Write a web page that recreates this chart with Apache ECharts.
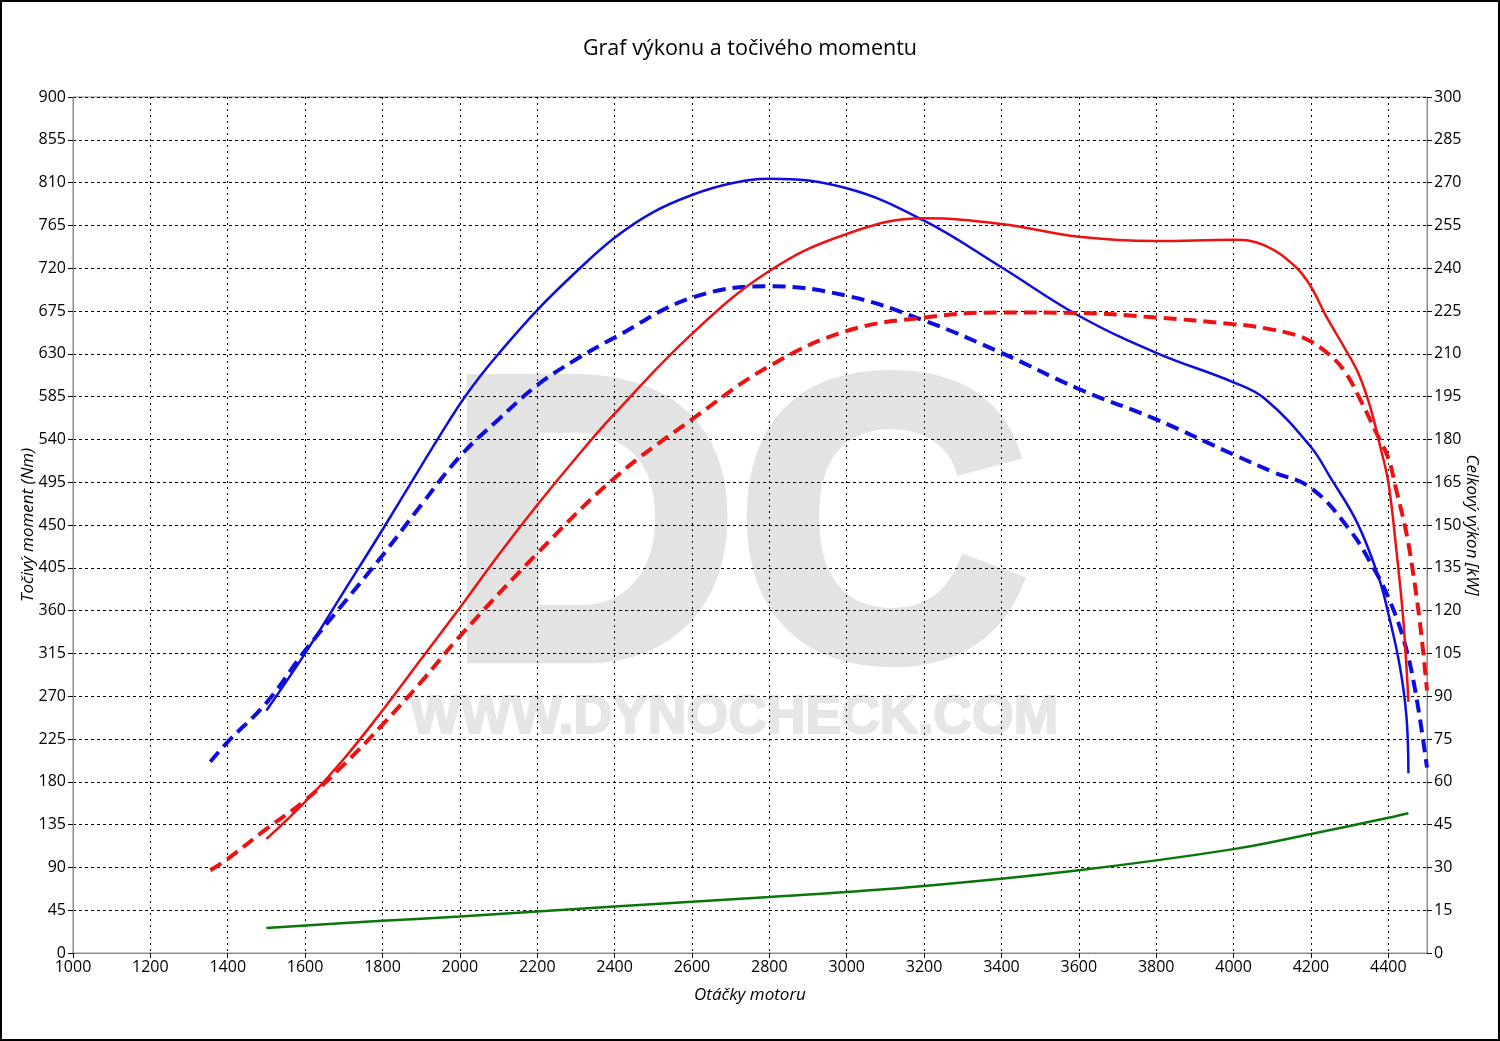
<!DOCTYPE html>
<html>
<head>
<meta charset="utf-8">
<script src="https://cdn.jsdelivr.net/npm/echarts@6/dist/echarts.min.js"></script>
<style>
html,body{margin:0;padding:0;background:#fff;}
#chart{width:1500px;height:1041px;}
</style>
</head>
<body>
<div id="chart"></div>
<script>
// ---- data ----
const titleText = 'Graf výkonu a točivého momentu';
const xName = 'Otáčky motoru';
const leftName = 'Točivý moment (Nm)';
const rightName = 'Celkový výkon [kW]';

// Torque after tuning (blue solid), Nm
const torqueTunedRpm = [1500,1600,1700,1800,1900,1950,2000,2050,2100,2200,2300,2400,2500,2600,2700,2800,3000,3200,3400,3600,3800,4000,4080,4200,4250,4320,4375,4400,4430,4447,4452];
const torqueTunedNm  = [255,315,380,445,512,545,577,605,630,676,716,752,779,797,809,814,804,770,721,670,631,600,583,532,500,452,395,357,301,248,189];

// Torque stock (blue dashed), Nm
const torqueStockRpm = [1355,1400,1500,1600,1700,1800,1900,2000,2100,2200,2300,2400,2600,2800,3000,3200,3400,3600,3800,4000,4100,4200,4300,4360,4400,4440,4470,4500];
const torqueStockNm  = [201,222,263,318,368,418,471,522,561,597,624,647,689,701,691,665,631,593,561,524,506,489,445,406,374,329,275,195];

// Power after tuning (red solid), kW
const powerTunedRpm = [1500,1600,1700,1800,1900,2000,2100,2200,2300,2400,2600,2800,3000,3200,3400,3600,3800,4000,4080,4160,4200,4240,4285,4323,4353,4379,4400,4421,4438,4447,4452];
const powerTunedKw  = [40,53,68,85,103,121,139.5,157,173.5,189,217,239,252,257.5,255.5,251,249.5,250,248,240.5,233.5,223,212.5,203,191.5,177.5,165,141,118,100,88];

// Power stock (red dashed), kW
const powerStockRpm = [1355,1400,1500,1600,1700,1800,1900,2000,2200,2400,2600,2800,3000,3200,3400,3600,3800,4000,4080,4160,4200,4243,4285,4328,4370,4400,4421,4447,4468,4485,4500];
const powerStockKw  = [29,33,43.5,53.5,66,80,95,111,140,166.5,187,205.7,218,222.7,224.5,224.3,222.7,220.4,219,216.6,214.3,210.2,204.3,193.8,182,173.4,162,147,129.6,112,92];

// Losses (green), kW
const lossRpm = [1500,1800,2000,2400,2800,3200,3600,4000,4200,4400,4452];
const lossKw  = [8.8,11.3,12.8,16.3,19.6,23.5,29,36.4,41.7,47.4,49];

function zip(a,b){ return a.map((v,i)=>[v,b[i]]); }

const FONT = 'Open Sans';
const chart = echarts.init(document.getElementById('chart'), null, {renderer:'canvas'});
const plain = v => String(v);

const dash = [13,7];
chart.setOption({
  animation:false,
  backgroundColor:'#fff',
  title:{
    text:titleText, left:'center', top:33,
    textStyle:{fontFamily:FONT, fontSize:21.5, fontWeight:'normal', color:'#000'}
  },
  grid:{left:73, right:73, top:97, bottom:88, show:true, borderColor:'#8c8c8c', borderWidth:1},
  xAxis:{
    type:'value', min:1000, max:4500, interval:200,
    name:xName, nameLocation:'middle', nameGap:34,
    nameTextStyle:{fontFamily:FONT, fontSize:17, fontStyle:'italic', color:'#000'},
    axisLine:{show:true, lineStyle:{color:'#8c8c8c', width:1}},
    axisTick:{show:true, length:5, lineStyle:{color:'#000'}},
    axisLabel:{fontFamily:FONT, fontSize:16, color:'#000', margin:6, showMaxLabel:false, formatter:plain},
    splitLine:{show:true, lineStyle:{color:'#000', width:1, type:[2,4]}}
  },
  yAxis:[{
    type:'value', min:0, max:900, interval:45, position:'left',
    name:leftName, nameLocation:'middle', nameGap:36, nameRotate:90, nameMoveOverlap:false,
    nameTextStyle:{fontFamily:FONT, fontSize:17, fontStyle:'italic', color:'#000'},
    axisLine:{show:true, lineStyle:{color:'#8c8c8c', width:1}},
    axisTick:{show:true, length:5, lineStyle:{color:'#000'}},
    axisLabel:{fontFamily:FONT, fontSize:16, color:'#000', margin:7, formatter:plain},
    splitLine:{show:true, lineStyle:{color:'#000', width:1, type:[3,3]}}
  },{
    type:'value', min:0, max:300, interval:15, position:'right',
    name:rightName, nameLocation:'middle', nameGap:36, nameRotate:-90, nameMoveOverlap:false,
    nameTextStyle:{fontFamily:FONT, fontSize:17, fontStyle:'italic', color:'#000'},
    axisLine:{show:true, lineStyle:{color:'#8c8c8c', width:1}},
    axisTick:{show:true, length:5, lineStyle:{color:'#000'}},
    axisLabel:{fontFamily:FONT, fontSize:16, color:'#000', margin:7, formatter:plain},
    splitLine:{show:false}
  }],
  graphic:[
    {type:'text', x:447, y:546, scaleX:1.005, z:-10, silent:true,
     style:{text:'DC', x:0, y:0, align:'left', verticalAlign:'middle',
            font:'bold 400px "Liberation Sans", Arial, sans-serif', fill:'#e3e3e3',
            stroke:'#e3e3e3', lineWidth:14, lineJoin:'miter'}},
    {type:'text', x:410, y:718, scaleX:1.01, z:-10, silent:true,
     style:{text:'WWW.DYNOCHECK.COM', x:0, y:0, align:'left', verticalAlign:'middle',
            font:'bold 53px "Liberation Sans", Arial, sans-serif', fill:'#e6e6e6',
            stroke:'#e6e6e6', lineWidth:2}},
    {type:'rect', z:100, silent:true, shape:{x:1, y:1, width:1498, height:1039},
     style:{fill:'none', stroke:'#000', lineWidth:2}}
  ],
  series:[
    {type:'line', name:'Moment tuned', yAxisIndex:0, data:zip(torqueTunedRpm,torqueTunedNm),
     smooth:0.4, showSymbol:false, lineStyle:{color:'#0d0de0', width:2.5}, z:3},
    {type:'line', name:'Moment stock', yAxisIndex:0, data:zip(torqueStockRpm,torqueStockNm),
     smooth:0.4, showSymbol:false, lineStyle:{color:'#0d0de0', width:4, type:dash}, z:3},
    {type:'line', name:'Výkon tuned', yAxisIndex:1, data:zip(powerTunedRpm,powerTunedKw),
     smooth:0.4, showSymbol:false, lineStyle:{color:'#ee1111', width:2.5}, z:3},
    {type:'line', name:'Výkon stock', yAxisIndex:1, data:zip(powerStockRpm,powerStockKw),
     smooth:0.4, showSymbol:false, lineStyle:{color:'#ee1111', width:4, type:dash}, z:3},
    {type:'line', name:'Ztráty', yAxisIndex:1, data:zip(lossRpm,lossKw),
     smooth:0.4, showSymbol:false, lineStyle:{color:'#0a760a', width:2.5}, z:3}
  ]
});
</script>
</body>
</html>
